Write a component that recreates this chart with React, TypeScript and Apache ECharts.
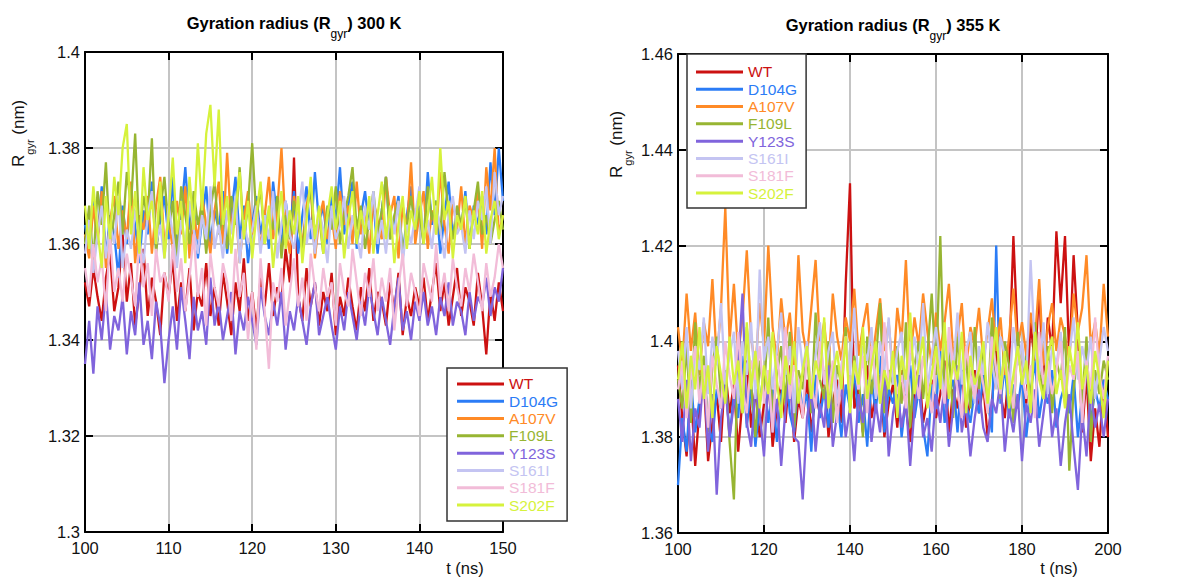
import React, { useEffect, useRef } from "react";
import * as echarts from "echarts";

// ---------- data ----------
const seriesNames = ["WT", "D104G", "A107V", "F109L", "Y123S", "S161I", "S181F", "S202F"];
const seriesColors = ["#cc1111", "#2b7cf6", "#ff8a26", "#97b532", "#8064dc", "#c4c4f2", "#f2bcd8", "#d6f23c"];

// time sampling (ns)
const t300Start = 100;
const t300Step = 0.5;
const t355Start = 100;
const t355Step = 1;

// axis ticks
const x300Ticks = [100, 110, 120, 130, 140, 150];
const y300Ticks = [1.3, 1.32, 1.34, 1.36, 1.38, 1.4];
const x355Ticks = [100, 120, 140, 160, 180, 200];
const y355Ticks = [1.36, 1.38, 1.4, 1.42, 1.44, 1.46];

// Rgyr values in pm, 300 K
const wt300 = [
  1352, 1347, 1355, 1349, 1344, 1353, 1358, 1346, 1351, 1362,
  1348, 1356, 1343, 1350, 1359, 1345, 1353, 1348, 1341, 1354,
  1349, 1357, 1344, 1352, 1346, 1355, 1342, 1350, 1347, 1356,
  1345, 1351, 1343, 1354, 1348, 1341, 1352, 1346, 1357, 1344,
  1350, 1342, 1353, 1347, 1356, 1345, 1351, 1348, 1359, 1352,
  1378, 1349, 1344, 1355, 1347, 1352, 1343, 1350, 1346, 1354,
  1341, 1349, 1345, 1353, 1347, 1342, 1351, 1346, 1355, 1344,
  1350, 1348, 1343, 1352, 1346, 1354, 1341, 1349, 1345, 1351,
  1347, 1353, 1344, 1350, 1356, 1346, 1352, 1343, 1349, 1355,
  1345, 1351, 1348, 1343, 1354, 1347, 1337, 1350, 1344, 1352,
  1346,
];
const d104g300 = [
  1364, 1358, 1369, 1361, 1372, 1357, 1366, 1362, 1353, 1368,
  1360, 1371, 1364, 1356, 1367, 1362, 1373, 1359, 1365, 1370,
  1361, 1374, 1358, 1366, 1376, 1363, 1369, 1357, 1365, 1372,
  1360, 1367, 1363, 1371, 1358, 1366, 1374, 1361, 1368, 1356,
  1364, 1370, 1362, 1367, 1359, 1373, 1365, 1360, 1369, 1363,
  1371, 1358, 1366, 1372, 1361, 1375, 1364, 1368, 1360, 1370,
  1365, 1376, 1362, 1368, 1373, 1359, 1366, 1371, 1363, 1369,
  1358, 1367, 1374, 1361, 1365, 1370, 1357, 1366, 1372, 1362,
  1368, 1360, 1375, 1364, 1369, 1358, 1366, 1373, 1361, 1367,
  1363, 1371, 1359, 1368, 1364, 1370, 1362, 1377, 1366, 1380,
  1369,
];
const a107v300 = [
  1362, 1357, 1368, 1360, 1371, 1355, 1365, 1370, 1359, 1367,
  1361, 1373, 1356, 1366, 1363, 1370, 1358, 1368, 1374, 1360,
  1365, 1359, 1369, 1362, 1372, 1357, 1366, 1361, 1370, 1364,
  1358, 1367, 1373, 1360, 1379, 1363, 1368, 1356, 1365, 1371,
  1362, 1369, 1359, 1366, 1374, 1361, 1367, 1380, 1363, 1358,
  1370, 1364, 1360, 1368, 1372, 1357, 1365, 1369, 1361, 1366,
  1359, 1371, 1364, 1368, 1360, 1373, 1362, 1367, 1358, 1369,
  1365, 1361, 1374, 1366, 1370, 1357, 1368, 1363, 1377, 1360,
  1366, 1371, 1359, 1367, 1362, 1375, 1364, 1358, 1369, 1363,
  1372, 1360, 1368, 1365, 1371, 1359, 1376, 1367, 1380, 1362,
  1366,
];
const f109l300 = [
  1360, 1368, 1356, 1371, 1364, 1377, 1359, 1366, 1373, 1362,
  1375, 1368, 1383, 1361, 1370, 1365, 1382, 1358, 1367, 1374,
  1363, 1369, 1357, 1372, 1366, 1360, 1371, 1364, 1368, 1358,
  1367, 1373, 1362, 1366, 1359, 1370, 1364, 1376, 1361, 1368,
  1381, 1365, 1372, 1360, 1367, 1363, 1370, 1357, 1366, 1361,
  1369, 1364, 1359, 1367, 1371, 1362, 1366, 1358, 1368, 1363,
  1372, 1360, 1366, 1370, 1376, 1363, 1368, 1359, 1365, 1371,
  1362, 1367, 1374, 1361, 1366, 1369, 1358, 1364, 1370, 1363,
  1367, 1360, 1372, 1365, 1369, 1362, 1375, 1366, 1361, 1368,
  1364, 1370, 1359, 1367, 1373, 1362, 1366, 1360, 1365, 1369,
  1363,
];
const y123s300 = [
  1335, 1344, 1333, 1347, 1340, 1350, 1338, 1345, 1342, 1349,
  1337, 1346, 1341, 1352, 1339, 1344, 1336, 1348, 1343, 1331,
  1340, 1347, 1338, 1351, 1344, 1336, 1349, 1342, 1346, 1339,
  1353, 1343, 1348, 1340, 1345, 1350, 1337, 1346, 1342, 1349,
  1344, 1339, 1351, 1345, 1341, 1348, 1343, 1350, 1338, 1346,
  1342, 1349, 1344, 1339, 1347, 1352, 1341, 1345, 1349, 1343,
  1338, 1347, 1342, 1350, 1345, 1340, 1348, 1343, 1351, 1346,
  1341, 1349, 1344, 1339, 1347, 1353, 1342, 1346, 1340, 1348,
  1344, 1350, 1343, 1347, 1341, 1349, 1345, 1352, 1343, 1348,
  1346, 1341, 1350, 1344, 1349, 1347, 1353, 1345, 1351, 1348,
  1355,
];
const s161i300 = [
  1358, 1365, 1354, 1362, 1368, 1357, 1364, 1360, 1370, 1355,
  1363, 1359, 1367, 1361, 1356, 1366, 1371, 1360, 1364, 1357,
  1368, 1362, 1355, 1365, 1360, 1369, 1363, 1358, 1366, 1361,
  1372, 1359, 1364, 1357, 1367, 1362, 1370, 1356, 1365, 1360,
  1363, 1368, 1358, 1366, 1361, 1371, 1357, 1364, 1369, 1362,
  1359, 1366, 1373, 1360, 1365, 1358, 1367, 1363, 1356, 1368,
  1361, 1364, 1370, 1359, 1366, 1362, 1357, 1368, 1363, 1371,
  1360, 1365, 1358, 1367, 1362, 1369, 1356, 1364, 1360, 1366,
  1372, 1361, 1365, 1359, 1368, 1363, 1357, 1366, 1370, 1362,
  1364, 1358, 1367, 1361, 1369, 1365, 1372, 1360, 1375, 1366,
  1370,
];
const s181f300 = [
  1355, 1349, 1360, 1352, 1357, 1346, 1362, 1350, 1355, 1348,
  1358, 1353, 1347, 1361, 1351, 1356, 1345, 1359, 1352, 1354,
  1348, 1360, 1350, 1357, 1346, 1353, 1362, 1349, 1355, 1343,
  1358, 1351, 1347, 1356, 1352, 1344, 1359, 1349, 1354, 1340,
  1350, 1338, 1357, 1346, 1334, 1352, 1348, 1355, 1343, 1350,
  1357, 1347, 1353, 1344, 1358, 1351, 1346, 1355, 1349, 1352,
  1343, 1356, 1350, 1347, 1359, 1352, 1345, 1354, 1349, 1357,
  1346, 1353, 1348, 1355, 1342, 1351, 1358, 1347, 1354, 1350,
  1345, 1356, 1352, 1348, 1360, 1349, 1354, 1346, 1357, 1351,
  1347, 1355, 1350, 1358, 1352, 1346, 1356, 1349, 1353, 1360,
  1355,
];
const s202f300 = [
  1368, 1359, 1372, 1363, 1355, 1370, 1361, 1374, 1366, 1380,
  1385, 1362, 1371, 1358, 1376, 1365, 1369, 1360, 1373, 1357,
  1366, 1378, 1362, 1369, 1356, 1374, 1363, 1381, 1367, 1383,
  1389, 1372, 1388, 1364, 1370, 1358, 1367, 1375, 1361, 1369,
  1357, 1366, 1373, 1360, 1368, 1355, 1364, 1371, 1359, 1367,
  1362, 1370, 1356, 1365, 1374, 1361, 1368, 1358, 1366, 1372,
  1363, 1369, 1357, 1365, 1371, 1360, 1367, 1362, 1370, 1358,
  1366, 1373, 1361, 1368, 1356, 1364, 1370, 1359, 1367, 1363,
  1371, 1360, 1366, 1374, 1362, 1380, 1365, 1369, 1357, 1366,
  1363, 1370, 1359, 1367, 1362, 1371, 1358, 1365, 1369, 1361,
  1366,
];

// Rgyr values in pm, 355 K
const wt355 = [
  1395, 1384, 1376, 1390, 1374, 1386, 1392, 1375, 1383, 1389,
  1379, 1394, 1385, 1391, 1377, 1388, 1396, 1382, 1390, 1380,
  1387, 1393, 1378, 1386, 1391, 1383, 1395, 1379, 1388, 1384,
  1392, 1381, 1389, 1385, 1394, 1380, 1387, 1392, 1383, 1412,
  1433, 1386, 1390, 1381, 1395, 1384, 1389, 1393, 1380, 1387,
  1391, 1382, 1394, 1386, 1379, 1390, 1395, 1383, 1388, 1392,
  1384, 1389, 1396, 1381, 1390, 1386, 1393, 1382, 1388, 1394,
  1385, 1391, 1380, 1387, 1398, 1389, 1384, 1395, 1422, 1400,
  1392, 1387, 1404, 1395, 1411, 1390, 1405, 1398, 1423, 1408,
  1422, 1396, 1418, 1402, 1381, 1393, 1375, 1386, 1378, 1392,
  1380,
];
const d104g355 = [
  1370, 1384, 1377, 1392, 1381, 1388, 1395, 1383, 1379, 1390,
  1386, 1393, 1380, 1389, 1384, 1397, 1382, 1391, 1378, 1387,
  1394, 1383, 1390, 1379, 1388, 1396, 1385, 1381, 1392, 1386,
  1389, 1377, 1393, 1384, 1390, 1382, 1395, 1388, 1380, 1391,
  1386, 1394, 1383, 1389, 1378, 1392, 1385, 1397, 1381, 1390,
  1387, 1393, 1380, 1388, 1395, 1384, 1390, 1382, 1376, 1391,
  1386, 1398, 1383, 1389, 1392, 1381, 1394, 1387, 1383, 1390,
  1385, 1393, 1388, 1381, 1420, 1387, 1395, 1384, 1391, 1386,
  1393, 1380, 1389, 1396, 1384, 1390, 1387, 1394, 1382, 1388,
  1391, 1385, 1393, 1380, 1389, 1395, 1383, 1390, 1386, 1392,
  1388,
];
const a107v355 = [
  1403, 1395, 1410, 1398, 1406, 1393, 1404, 1399, 1413, 1396,
  1407, 1428, 1400, 1412, 1397, 1405, 1419, 1401, 1394, 1408,
  1399, 1420, 1403, 1396, 1409, 1400, 1406, 1395, 1418, 1402,
  1397, 1407, 1417, 1399, 1404, 1394, 1410, 1401, 1396, 1405,
  1400, 1411, 1397, 1403, 1408, 1395, 1402, 1409, 1398, 1404,
  1393, 1407, 1400, 1417, 1396, 1405, 1399, 1410, 1402, 1395,
  1406, 1398, 1404, 1412, 1397, 1401, 1408, 1394, 1403, 1399,
  1407, 1396, 1402, 1409, 1398, 1405, 1393, 1401, 1411, 1399,
  1404, 1397, 1406, 1400, 1413, 1395, 1403, 1408, 1398, 1405,
  1401, 1396, 1410, 1402, 1407, 1418, 1399, 1404, 1397, 1412,
  1401,
];
const f109l355 = [
  1392, 1386, 1399, 1383, 1404, 1390, 1397, 1381, 1395, 1401,
  1388, 1394, 1379, 1367, 1398, 1385, 1403, 1391, 1380, 1396,
  1389, 1405, 1384, 1393, 1399, 1387, 1402, 1382, 1394, 1390,
  1398, 1385, 1406, 1392, 1388, 1400, 1383, 1395, 1391, 1403,
  1386, 1397, 1393, 1380, 1401, 1389, 1396, 1408, 1385, 1394,
  1391, 1399, 1387, 1404, 1382, 1395, 1400, 1388, 1397, 1410,
  1393, 1422, 1389, 1398, 1384, 1401, 1392, 1396, 1386, 1403,
  1390, 1398, 1385, 1405, 1393, 1388, 1400, 1395, 1383, 1402,
  1391, 1397, 1387, 1404, 1394, 1389, 1399, 1385, 1396, 1392,
  1403, 1373, 1390, 1398, 1387, 1401, 1379, 1394, 1389, 1396,
  1392,
];
const y123s355 = [
  1388, 1379, 1392, 1375, 1386, 1382, 1394, 1377, 1389, 1368,
  1384, 1391, 1380, 1387, 1395, 1410, 1383, 1378, 1390, 1385,
  1376, 1392, 1381, 1388, 1374, 1386, 1393, 1380, 1379, 1367,
  1384, 1390, 1377, 1387, 1382, 1395, 1378, 1385, 1391, 1380,
  1386, 1375, 1389, 1383, 1392, 1379, 1387, 1381, 1394, 1376,
  1385, 1390, 1382, 1388, 1374, 1386, 1393, 1380, 1384, 1377,
  1389, 1383, 1391, 1378, 1386, 1395, 1381, 1387, 1376, 1384,
  1390, 1382, 1379, 1388, 1385, 1392, 1377, 1386, 1381, 1389,
  1375, 1387, 1383, 1390, 1378, 1385, 1392, 1380, 1386, 1374,
  1383, 1389, 1378, 1369, 1385, 1376, 1390, 1382, 1387, 1380,
  1388,
];
const s161i355 = [
  1398, 1390, 1403, 1386, 1399, 1394, 1405, 1389, 1401, 1395,
  1408, 1391, 1397, 1402, 1387, 1400, 1393, 1404, 1388, 1415,
  1396, 1401, 1390, 1398, 1406, 1393, 1399, 1385, 1403, 1394,
  1400, 1389, 1397, 1404, 1391, 1398, 1402, 1387, 1395, 1401,
  1393, 1407, 1390, 1399, 1396, 1403, 1388, 1400, 1394, 1405,
  1391, 1398, 1402, 1389, 1396, 1401, 1393, 1408, 1390, 1397,
  1403, 1395, 1388, 1400, 1394, 1406, 1391, 1398, 1402, 1387,
  1399, 1393, 1404, 1396, 1390, 1401, 1397, 1389, 1403, 1395,
  1400, 1391, 1417, 1398, 1393, 1404, 1389, 1399, 1395, 1402,
  1390, 1397, 1405, 1392, 1399, 1394, 1401, 1388, 1396, 1403,
  1398,
];
const s181f355 = [
  1390, 1396, 1384, 1393, 1399, 1387, 1395, 1382, 1397, 1391,
  1386, 1400, 1393, 1388, 1402, 1390, 1385, 1396, 1392, 1399,
  1387, 1394, 1381, 1397, 1390, 1403, 1388, 1395, 1392, 1384,
  1398, 1391, 1386, 1400, 1393, 1389, 1396, 1383, 1394, 1401,
  1388, 1395, 1390, 1397, 1385, 1399, 1392, 1387, 1404, 1391,
  1396, 1389, 1393, 1386, 1400, 1394, 1388, 1397, 1391, 1385,
  1398, 1392, 1387, 1403, 1395, 1390, 1384, 1399, 1393, 1388,
  1396, 1391, 1385, 1401, 1394, 1389, 1397, 1392, 1386, 1399,
  1393, 1388, 1395, 1384, 1402, 1391, 1396, 1389, 1394, 1400,
  1387, 1395, 1392, 1398, 1383, 1396, 1390, 1405, 1393, 1388,
  1397,
];
const s202f355 = [
  1392, 1400, 1386, 1397, 1390, 1403, 1388, 1395, 1384, 1399,
  1393, 1387, 1401, 1391, 1396, 1385, 1404, 1390, 1398, 1386,
  1395, 1389, 1402, 1392, 1384, 1397, 1391, 1400, 1387, 1394,
  1399, 1388, 1396, 1392, 1405, 1386, 1393, 1398, 1390, 1401,
  1385, 1396, 1391, 1403, 1388, 1395, 1400, 1387, 1394, 1390,
  1398, 1384, 1397, 1392, 1406, 1389, 1395, 1401, 1386, 1393,
  1399, 1390, 1404, 1388, 1396, 1392, 1402, 1385, 1397, 1391,
  1394, 1400, 1387, 1395, 1403, 1390, 1398, 1386, 1393, 1399,
  1391, 1396, 1385, 1402, 1392, 1388, 1397, 1401, 1389, 1394,
  1386, 1399, 1393, 1404, 1390, 1395, 1387, 1398, 1392, 1384,
  1396,
];

const values300 = [wt300, d104g300, a107v300, f109l300, y123s300, s161i300, s181f300, s202f300];
const values355 = [wt355, d104g355, a107v355, f109l355, y123s355, s161i355, s181f355, s202f355];

// ---------- styling ----------
const FONT = "'Liberation Sans', Arial, Helvetica, sans-serif";
const TXT = "#111";

function toPairs(vals: number[], start: number, step: number) {
  return vals.map((v, i) => [start + i * step, v / 1000]);
}

function fmt(v: number) {
  return String(+v.toFixed(3));
}

function makeAxes(
  grid: number,
  xTicks: number[],
  yTicks: number[],
  xInterval: number,
  yInterval: number
) {
  const common = {
    gridIndex: grid,
    type: "value" as const,
    axisLine: { show: true, onZero: false, lineStyle: { color: "#000", width: 2 } },
    axisTick: { show: true, inside: true, length: 8, lineStyle: { color: "#000", width: 2 } },
  };
  const x = [
    {
      ...common,
      position: "bottom",
      min: xTicks[0],
      max: xTicks[xTicks.length - 1],
      interval: xInterval,
      axisLabel: { color: TXT, fontSize: 16.5, fontFamily: FONT, margin: 7, formatter: fmt },
      splitLine: { show: true, lineStyle: { color: "#c4c4c4", width: 2 } },
    },
    {
      ...common,
      position: "top",
      min: xTicks[0],
      max: xTicks[xTicks.length - 1],
      interval: xInterval,
      axisLabel: { show: false },
      splitLine: { show: false },
    },
  ];
  const y = [
    {
      ...common,
      position: "left",
      min: yTicks[0],
      max: yTicks[yTicks.length - 1],
      interval: yInterval,
      axisLabel: { color: TXT, fontSize: 16.5, fontFamily: FONT, margin: 5, formatter: fmt },
      splitLine: { show: true, lineStyle: { color: "#c4c4c4", width: 2 } },
    },
    {
      ...common,
      position: "right",
      min: yTicks[0],
      max: yTicks[yTicks.length - 1],
      interval: yInterval,
      axisLabel: { show: false },
      splitLine: { show: false },
    },
  ];
  return { x, y };
}

function titleText(x: number, y: number, label: string) {
  return {
    type: "text",
    x,
    y,
    z: 100,
    style: {
      text: `{m|Gyration radius (R}{s|gyr}{m|) ${label}}`,
      align: "center",
      verticalAlign: "middle",
      fill: "#000",
      rich: {
        m: { fontSize: 16.5, fontWeight: "bold", fontFamily: FONT, lineHeight: 36, fill: "#000" },
        s: { fontSize: 12, fontFamily: FONT, lineHeight: 12, padding: [23.5, 0, 0, 0], fill: "#000" },
      },
    },
  };
}

function yName(x: number, y: number) {
  return {
    type: "text",
    x,
    y,
    rotation: Math.PI / 2,
    z: 100,
    style: {
      text: "{m|R}{s|gyr}{m| (nm)}",
      align: "left",
      verticalAlign: "middle",
      fill: TXT,
      rich: {
        m: { fontSize: 17, fontFamily: FONT, lineHeight: 36, fill: TXT },
        s: { fontSize: 11, fontFamily: FONT, lineHeight: 12, padding: [23, 0, 0, 0], fill: TXT },
      },
    },
  };
}

function xName(x: number, y: number) {
  return {
    type: "text",
    x,
    y,
    z: 100,
    style: {
      text: "t (ns)",
      align: "center",
      verticalAlign: "middle",
      fill: TXT,
      fontSize: 16.5,
      fontFamily: FONT,
    },
  };
}

function legendAt(left: number, top: number, padding: number[]) {
  return {
    orient: "vertical",
    left,
    top,
    padding,
    itemGap: 0,
    itemWidth: 47,
    itemHeight: 3,
    icon: "rect",
    backgroundColor: "#fff",
    borderColor: "#333",
    borderWidth: 1.5,
    borderRadius: 0,
    selectedMode: false,
    textStyle: { fontSize: 15.5, fontFamily: FONT, lineHeight: 17.3, padding: [0, 0, 0, 0] },
    data: seriesNames.map((n, i) => ({ name: n, textStyle: { color: seriesColors[i] } })),
  };
}

export default function App() {
  const ref = useRef<HTMLDivElement>(null);

  useEffect(() => {
    if (!ref.current) return;
    const chart = echarts.init(ref.current, undefined, { renderer: "svg" });

    const a300 = makeAxes(0, x300Ticks, y300Ticks, 10, 0.02);
    const a355 = makeAxes(1, x355Ticks, y355Ticks, 20, 0.02);

    const series: any[] = [];
    values300.forEach((vals, i) => {
      series.push({
        type: "line",
        name: seriesNames[i],
        xAxisIndex: 0,
        yAxisIndex: 0,
        showSymbol: false,
        symbol: "none",
        color: seriesColors[i],
        lineStyle: { color: seriesColors[i], width: 2.3 },
        data: toPairs(vals, t300Start, t300Step),
      });
    });
    values355.forEach((vals, i) => {
      series.push({
        type: "line",
        name: seriesNames[i],
        xAxisIndex: 2,
        yAxisIndex: 2,
        showSymbol: false,
        symbol: "none",
        color: seriesColors[i],
        lineStyle: { color: seriesColors[i], width: 2.3 },
        data: toPairs(vals, t355Start, t355Step),
      });
    });

    chart.setOption({
      animation: false,
      backgroundColor: "#fff",
      grid: [
        { left: 85, top: 52, width: 418, height: 480 },
        { left: 678, top: 54, width: 430, height: 479 },
      ],
      xAxis: [...a300.x, ...a355.x],
      yAxis: [...a300.y, ...a355.y],
      legend: [legendAt(447, 368, [7.3, 9, 7.3, 10]), legendAt(687, 54, [9.3, 9, 6.3, 9])],
      series,
      graphic: [
        titleText(294, 22.7, "300 K"),
        titleText(893, 24.5, "355 K"),
        yName(18.5, 167),
        yName(616.5, 178),
        xName(465, 568),
        xName(1059, 568),
      ],
    });

    return () => chart.dispose();
  }, []);

  return (
    <div
      ref={ref}
      style={{ position: "absolute", left: 0, top: 0, width: 1183, height: 580, background: "#fff" }}
    />
  );
}
